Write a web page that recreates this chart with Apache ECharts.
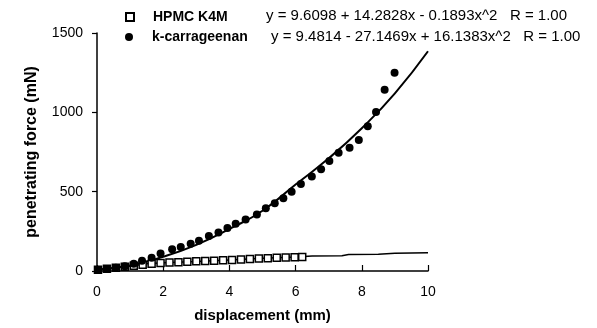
<!DOCTYPE html>
<html>
<head>
<meta charset="utf-8">
<script src="https://cdn.jsdelivr.net/npm/echarts@6/dist/echarts.min.js"></script>
<style>
html,body{margin:0;padding:0;background:#fff;}
#c{width:597px;height:328px;}
</style>
</head>
<body>
<div id="c"></div>
<script>
const seriesNames = ['HPMC K4M', 'k-carrageenan'];
const equations = ['y = 9.6098 + 14.2828x - 0.1893x^2   R = 1.00', 'y = 9.4814 - 27.1469x + 16.1383x^2   R = 1.00'];
const xTicks = [0, 2, 4, 6, 8, 10];
const yTicks = [0, 500, 1000, 1500];

const hpmcX = [0.03,0.30,0.57,0.84,1.11,1.38,1.65,1.92,2.19,2.46,2.73,3.00,3.27,3.54,3.81,4.08,4.35,4.62,4.89,5.16,5.43,5.70,5.97,6.20];
const hpmcY = [8,14,20,26,33,40,46,50,53,55,58,61,63,65,68,70,73,76,78,80,83,85,87,89];

const carrX = [0.03,0.30,0.57,0.84,1.11,1.36,1.65,1.92,2.27,2.53,2.83,3.08,3.38,3.67,3.94,4.19,4.49,4.83,5.10,5.37,5.63,5.88,6.16,6.49,6.77,7.02,7.30,7.63,7.91,8.18,8.43,8.69,8.99];
const carrY = [6,12,20,30,45,65,83,110,137,152,171,190,221,242,271,298,325,356,396,427,458,500,548,596,642,694,746,777,825,912,1002,1142,1250];

const hpmcFitX = [0,1,1.5,2,3,4,5,6,6.5,7.4,7.6,8.5,9,10];
const hpmcFitY = [10,30,45,52,60,70,80,88,95,96,104,106,112,115];

const carrFitX = [0,1,2,3,4,5,6,7,8,9,10];
const carrFitY = [8,35,90,165,265,380,545,710,900,1120,1385];

const zip = (a, b) => a.map((v, i) => [v, b[i]]);
const FONT = '"Liberation Sans", Arial, sans-serif';

const legendText = {fontFamily: FONT, fontSize: 14, fontWeight: 'bold', color: '#000', lineHeight: 14, padding: [0, 0, 0, 14]};

const chart = echarts.init(document.getElementById('c'), null, {renderer: 'canvas'});
chart.setOption({
  animation: false,
  backgroundColor: '#fff',
  grid: {left: 97, right: 169, top: 33, bottom: 55.5, containLabel: false},
  legend: [
    {data: [seriesNames[0]], left: 125, top: 10, padding: 0, itemWidth: 8, itemHeight: 8, textStyle: legendText},
    {data: [seriesNames[1]], left: 125, top: 30, padding: 0, itemWidth: 8, itemHeight: 8, textStyle: legendText}
  ],
  graphic: equations.map((t, i) => ({
    type: 'text',
    left: i === 0 ? 266 : 271,
    top: i === 0 ? 8 : 29.5,
    style: {text: t, font: '15px ' + FONT, fill: '#000'}
  })),
  xAxis: {
    type: 'value', min: xTicks[0], max: xTicks[xTicks.length - 1], interval: 2,
    name: 'displacement (mm)', nameLocation: 'middle', nameGap: 37,
    nameTextStyle: {fontFamily: FONT, fontSize: 15, fontWeight: 'bold', color: '#000'},
    axisLine: {lineStyle: {color: '#000', width: 1.5}},
    axisTick: {inside: true, length: 6, lineStyle: {color: '#000', width: 1.2}},
    axisLabel: {fontFamily: FONT, fontSize: 14, color: '#000', margin: 14},
    splitLine: {show: false}
  },
  yAxis: {
    type: 'value', min: yTicks[0], max: yTicks[yTicks.length - 1], interval: 500,
    name: 'penetrating force (mN)', nameLocation: 'middle', nameGap: 57,
    nameTextStyle: {fontFamily: FONT, fontSize: 16, fontWeight: 'bold', color: '#000'},
    axisLine: {lineStyle: {color: '#000', width: 1.5}},
    axisTick: {inside: false, length: 5, lineStyle: {color: '#000', width: 1.2}},
    axisLabel: {fontFamily: FONT, fontSize: 14, color: '#000', margin: 14, formatter: v => String(v)},
    splitLine: {show: false}
  },
  series: [
    {
      name: seriesNames[0], type: 'scatter', data: zip(hpmcX, hpmcY),
      symbol: 'rect', symbolSize: 7,
      itemStyle: {color: '#fff', borderColor: '#000', borderWidth: 1.5, opacity: 1}, z: 3
    },
    {
      name: seriesNames[1], type: 'scatter', data: zip(carrX, carrY),
      symbol: 'circle', symbolSize: 8,
      itemStyle: {color: '#000', opacity: 1}, z: 3
    },
    {
      name: 'hpmc fit', type: 'line', data: zip(hpmcFitX, hpmcFitY),
      showSymbol: false, smooth: false,
      lineStyle: {color: '#000', width: 1.5}, z: 2
    },
    {
      name: 'carr fit', type: 'line', data: zip(carrFitX, carrFitY),
      showSymbol: false, smooth: true,
      lineStyle: {color: '#000', width: 2}, z: 2
    }
  ]
});
</script>
</body>
</html>
